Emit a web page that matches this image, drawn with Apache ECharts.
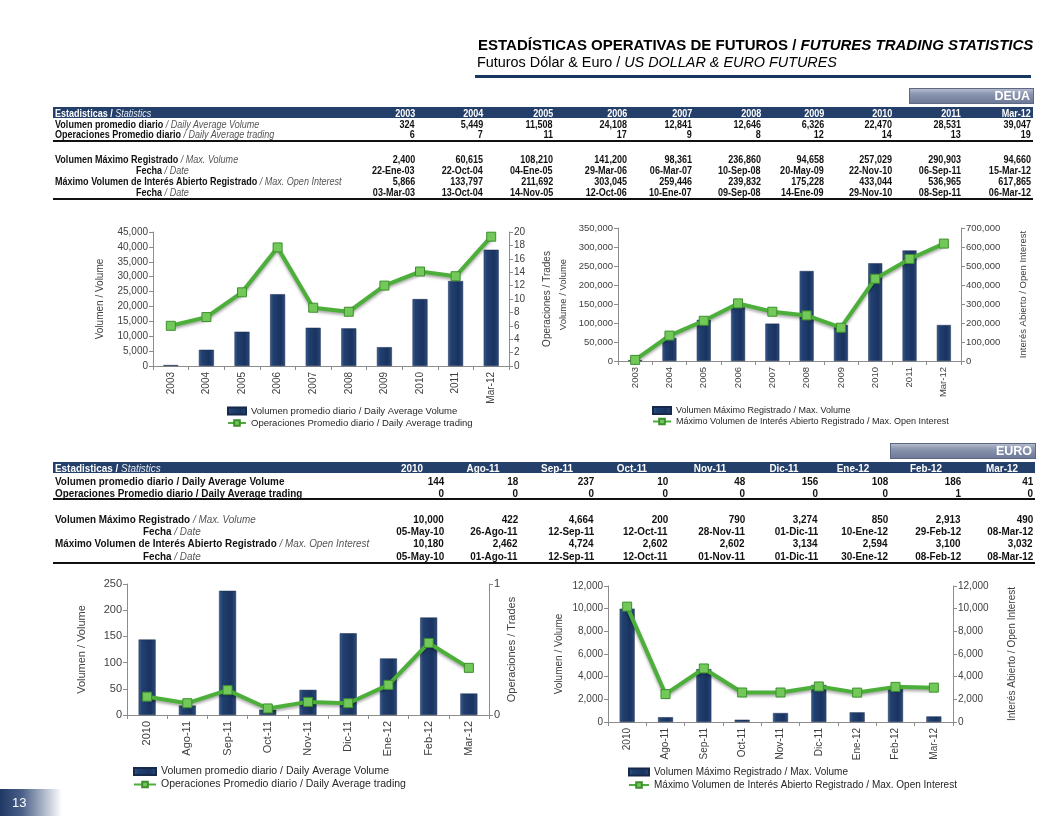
<!DOCTYPE html>
<html><head><meta charset="utf-8">
<script src="https://cdn.jsdelivr.net/npm/echarts@6/dist/echarts.min.js"></script>
<style>
body{margin:0;background:#fff;font-family:"Liberation Sans",Arial,sans-serif;}
#page{position:relative;width:1054px;height:816px;overflow:hidden;background:#fff;}
#chart{position:absolute;left:0;top:0;width:1054px;height:816px;}
#ov{position:absolute;left:0;top:0;width:1054px;height:816px;pointer-events:none;}
.t{position:absolute;white-space:nowrap;color:#111;}
.t i{font-style:italic;font-weight:normal;color:#555;}
.hd i{color:#e8ecf3;}
</style></head>
<body><div id="page"><div id="chart"></div><div id="ov"></div></div>
<script>
// ---------- DATA ----------
const deuaYears = ['2003','2004','2005','2006','2007','2008','2009','2010','2011','Mar-12'];
const deuaAvgVolume = [324,5449,11508,24108,12841,12646,6326,22470,28531,39047];
const deuaAvgTrades = [6,7,11,17,9,8,12,14,13,19];
const deuaAvgTradesChart = [6.0,7.3,11.0,17.7,8.7,8.1,12.0,14.1,13.4,19.3];
const deuaMaxVolume = [2400,60615,108210,141200,98361,236860,94658,257029,290903,94660];
const deuaMaxVolumeDate = ['22-Ene-03','22-Oct-04','04-Ene-05','29-Mar-06','06-Mar-07','10-Sep-08','20-May-09','22-Nov-10','06-Sep-11','15-Mar-12'];
const deuaMaxOI = [5866,133797,211692,303045,259446,239832,175228,433044,536965,617865];
const deuaMaxOIDate = ['03-Mar-03','13-Oct-04','14-Nov-05','12-Oct-06','10-Ene-07','09-Sep-08','14-Ene-09','29-Nov-10','08-Sep-11','06-Mar-12'];

const euroMonths = ['2010','Ago-11','Sep-11','Oct-11','Nov-11','Dic-11','Ene-12','Feb-12','Mar-12'];
const euroAvgVolume = [144,18,237,10,48,156,108,186,41];
const euroAvgTrades = [0,0,0,0,0,0,0,1,0];
const euroAvgTradesChart = [0.14,0.09,0.19,0.05,0.10,0.09,0.23,0.55,0.36];
const euroMaxVolume = [10000,422,4664,200,790,3274,850,2913,490];
const euroMaxVolumeDate = ['05-May-10','26-Ago-11','12-Sep-11','12-Oct-11','28-Nov-11','01-Dic-11','10-Ene-12','29-Feb-12','08-Mar-12'];
const euroMaxOI = [10180,2462,4724,2602,2602,3134,2594,3100,3032];
const euroMaxOIDate = ['05-May-10','01-Ago-11','12-Sep-11','12-Oct-11','01-Nov-11','01-Dic-11','30-Ene-12','08-Feb-12','08-Mar-12'];

const nameAvgVol = 'Volumen promedio diario / Daily Average Volume';
const nameAvgTrades = 'Operaciones Promedio diario / Daily Average trading';
const nameMaxVol = 'Volumen Máximo Registrado / Max. Volume';
const nameMaxOI = 'Máximo Volumen de Interés Abierto Registrado / Max. Open Interest';

// ---------- HTML overlay (titles, tables) ----------
const fmt = v => String(Math.round(v)).replace(/\B(?=(\d{3})+(?!\d))/g, ',');
const ov = document.getElementById('ov');
function put(x, cy, html, align, style, cls, sx){
  const d = document.createElement('div');
  d.className = 't' + (cls ? ' ' + cls : '');
  d.innerHTML = html;
  d.style.top = (cy - 7) + 'px';
  d.style.lineHeight = '14px';
  let origin = 'left center';
  if (align === 'right') { d.style.right = (1054 - x) + 'px'; d.style.textAlign = 'right'; origin = 'right center'; }
  else if (align === 'center') { d.style.left = (x - 60) + 'px'; d.style.width = '120px'; d.style.textAlign = 'center'; origin = 'center center'; }
  else d.style.left = x + 'px';
  if (sx) { d.style.transform = 'scaleX(' + sx + ')'; d.style.transformOrigin = origin; }
  Object.assign(d.style, style || {});
  ov.appendChild(d);
  return d;
}
function box(x, y, w, h, bg, extra){
  const d = document.createElement('div');
  d.style.position = 'absolute';
  d.style.left = x + 'px'; d.style.top = y + 'px'; d.style.width = w + 'px'; d.style.height = h + 'px';
  d.style.background = bg;
  Object.assign(d.style, extra || {});
  ov.appendChild(d);
  return d;
}

// Title
put(478, 45, '<b>ESTADÍSTICAS OPERATIVAS DE FUTUROS / </b><b style="font-style:italic">FUTURES TRADING STATISTICS</b>', 'left', {fontSize:'15px', color:'#000'});
put(477, 62, 'Futuros Dólar &amp; Euro / <span style="font-style:italic">US DOLLAR &amp; EURO FUTURES</span>', 'left', {fontSize:'14.7px', color:'#000'}, null, 0.98);
box(475, 75, 556, 3, '#17375e');

// badges
function badge(x, y, w, h, label){
  const b = box(x, y, w, h, 'linear-gradient(#b3bbcc 0%, #8b96b0 35%, #6d7a97 100%)', {border:'1px solid #5c6884', boxSizing:'border-box'});
  const s = document.createElement('div');
  s.textContent = label;
  Object.assign(s.style, {position:'absolute', right:'3px', top:'0px', lineHeight:(h-2)+'px', color:'#fff', fontWeight:'bold', fontSize:'12.5px'});
  b.appendChild(s);
}
badge(909, 88, 125, 16, 'DEUA');
badge(890, 443, 146, 16, 'EURO');

// table helpers
function tableRow(cols, cy, labelX, labelHtml, values, fs, sx){
  put(labelX, cy, labelHtml, 'left', {fontSize:fs}, null, sx);
  values.forEach((v,i)=>put(cols[i], cy, v, 'right', {fontSize:fs, fontWeight:'bold'}, null, sx));
}

// DEUA table
const SD = 0.86, FD = '10.5px';
const deuaCols = [415,483,553,627,692,761,824,892,961,1031];
box(53, 107, 980, 11, '#243f69');
put(55, 112.5, '<b>Estadisticas / </b><i>Statistics</i>', 'left', {color:'#fff', fontSize:FD}, 'hd', SD);
deuaYears.forEach((y,i)=>put(deuaCols[i], 112.5, y, 'right', {color:'#fff', fontWeight:'bold', fontSize:FD}, null, SD));
tableRow(deuaCols, 123.5, 55, '<b>Volumen promedio diario</b><i> / Daily Average Volume</i>', deuaAvgVolume.map(fmt), FD, SD);
tableRow(deuaCols, 134, 55, '<b>Operaciones Promedio diario</b><i> / Daily Average trading</i>', deuaAvgTrades.map(fmt), FD, SD);
box(53, 140, 980, 2, '#111');
tableRow(deuaCols, 159, 55, '<b>Volumen Máximo Registrado</b><i> / Max. Volume</i>', deuaMaxVolume.map(fmt), FD, SD);
tableRow(deuaCols, 170, 136, '<b>Fecha</b><i> / Date</i>', deuaMaxVolumeDate, FD, SD);
tableRow(deuaCols, 181, 55, '<b>Máximo Volumen de Interés Abierto Registrado</b><i> / Max. Open Interest</i>', deuaMaxOI.map(fmt), FD, SD);
tableRow(deuaCols, 192, 136, '<b>Fecha</b><i> / Date</i>', deuaMaxOIDate, FD, SD);
box(53, 198, 980, 2, '#111');

// EURO table
const SE = 0.9, FE = '11px';
const euroCols = [444,518,594,668,745,818,888,961,1033];
const euroHeadC = [412,483,557,632,710,784,853,926,1002];
box(53, 462, 982, 11, '#243f69');
put(55, 467.5, '<b>Estadisticas / </b><i>Statistics</i>', 'left', {color:'#fff', fontSize:FE}, 'hd', SE);
euroMonths.forEach((m,i)=>put(euroHeadC[i], 467.5, m, 'center', {color:'#fff', fontWeight:'bold', fontSize:FE}, null, SE));
tableRow(euroCols, 481, 55, '<b>Volumen promedio diario / Daily Average Volume</b>', euroAvgVolume.map(fmt), FE, SE);
tableRow(euroCols, 492.5, 55, '<b>Operaciones Promedio diario / Daily Average trading</b>', euroAvgTrades.map(fmt), FE, SE);
box(53, 498, 982, 2, '#111');
tableRow(euroCols, 519, 55, '<b>Volumen Máximo Registrado</b><i> / Max. Volume</i>', euroMaxVolume.map(fmt), FE, SE);
tableRow(euroCols, 531, 143, '<b>Fecha</b><i> / Date</i>', euroMaxVolumeDate, FE, SE);
tableRow(euroCols, 543, 55, '<b>Máximo Volumen de Interés Abierto Registrado</b><i> / Max. Open Interest</i>', euroMaxOI.map(fmt), FE, SE);
tableRow(euroCols, 555.5, 143, '<b>Fecha</b><i> / Date</i>', euroMaxOIDate, FE, SE);
box(53, 562, 982, 2, '#111');

// page number
box(0, 789, 62, 27, 'linear-gradient(to right, #1f3864 0%, #4a5f88 35%, #ffffff 100%)');
put(12, 803, '13', 'left', {color:'#fff', fontSize:'13px'});

// ---------- CHARTS ----------
const chart = echarts.init(document.getElementById('chart'));
const LBL = '#404040', AX = '#8c8c8c';
const FONT = '"Liberation Sans", Arial, sans-serif';
const barGrad = () => new echarts.graphic.LinearGradient(0,0,1,0,[
  {offset:0,color:'#3e5f93'},{offset:0.2,color:'#21406f'},{offset:0.7,color:'#1a3360'},{offset:1,color:'#2b4a7b'}]);
const grids = [
  {left:153, top:232, width:356, height:134},
  {left:618, top:228, width:343, height:133},
  {left:127, top:584, width:362, height:131},
  {left:608, top:586, width:345, height:136}
].map(g => Object.assign({outerBoundsMode:'none', containLabel:false}, g));

function xAx(gi, data, fs){
  return {gridIndex:gi, type:'category', data,
    axisLine:{show:true, lineStyle:{color:AX}},
    axisTick:{show:true, length:4, lineStyle:{color:AX}},
    axisLabel:{rotate:90, color:LBL, fontSize:fs, fontFamily:FONT, margin:6}};
}
function yAx(gi, pos, max, interval, name, gap, fs, f){
  return {gridIndex:gi, type:'value', position:pos, min:0, max, interval,
    name, nameLocation:'middle', nameRotate:90, nameGap:gap,
    nameTextStyle:{color:LBL, fontSize:fs, fontFamily:FONT},
    axisLine:{show:true, lineStyle:{color:AX}},
    axisTick:{show:true, length:4, lineStyle:{color:AX}},
    axisLabel:{color:LBL, fontSize:fs, fontFamily:FONT, margin:5, formatter:f || fmt},
    splitLine:{show:false}};
}
function barS(name, xi, yi, data, w){
  return {type:'bar', name, xAxisIndex:xi, yAxisIndex:yi, data, barWidth:w,
    itemStyle:{color:barGrad(), borderColor:'#16294a', borderWidth:0.5}, z:2};
}
function lineS(name, xi, yi, data){
  return {type:'line', name, xAxisIndex:xi, yAxisIndex:yi, data,
    symbol:'rect', symbolSize:9, showAllSymbol:true,
    lineStyle:{color:'#4caf3a', width:4, shadowColor:'rgba(0,0,0,0.35)', shadowBlur:3, shadowOffsetY:2},
    itemStyle:{color:'#72c95a', borderColor:'#3d8f2c', borderWidth:1}, z:3};
}
function leg(left, top, names, fs, gap, iw){
  return {left, top, orient:'vertical', itemGap:gap, itemWidth:iw, itemHeight:7, padding:0,
    textStyle:{color:'#262626', fontSize:fs, fontFamily:FONT},
    data:[{name:names[0], icon:'rect'}, {name:names[1]}]};
}

chart.setOption({
  animation:false,
  textStyle:{fontFamily:FONT},
  grid:grids,
  xAxis:[xAx(0, deuaYears, 10), xAx(1, deuaYears, 9.5), xAx(2, euroMonths, 11), xAx(3, euroMonths, 10)],
  yAxis:[
    yAx(0,'left',45000,5000,'Volumen / Volume',48,10),
    yAx(0,'right',20,2,'Operaciones / Trades',33,10),
    yAx(1,'left',350000,50000,'Volume / Volume',50,9.5),
    yAx(1,'right',700000,100000,'Interés Abierto / Open Interest',57,9.5),
    yAx(2,'left',250,50,'Volumen / Volume',40,11),
    yAx(2,'right',1,1,'Operaciones / Trades',17,11, v => String(v)),
    yAx(3,'left',12000,2000,'Volumen / Volume',44,10),
    yAx(3,'right',12000,2000,'Interés Abierto / Open Interest',54,10)
  ],
  legend:[
    leg(227, 406, [nameAvgVol, nameAvgTrades], 9.5, 2, 18),
    leg(652, 406, [nameMaxVol, nameMaxOI], 9, 2, 18),
    leg(133, 766, [nameAvgVol, nameAvgTrades], 10.5, 2, 22),
    leg(628, 767, [nameMaxVol, nameMaxOI], 10, 3, 20)
  ],
  series:[
    barS(nameAvgVol, 0, 0, deuaAvgVolume, 15),
    lineS(nameAvgTrades, 0, 1, deuaAvgTradesChart),
    barS(nameMaxVol, 1, 2, deuaMaxVolume, 14),
    lineS(nameMaxOI, 1, 3, deuaMaxOI),
    barS(nameAvgVol, 2, 4, euroAvgVolume, 17),
    lineS(nameAvgTrades, 2, 5, euroAvgTradesChart),
    barS(nameMaxVol, 3, 6, euroMaxVolume, 15),
    lineS(nameMaxOI, 3, 7, euroMaxOI)
  ]
});
</script>
</body></html>
